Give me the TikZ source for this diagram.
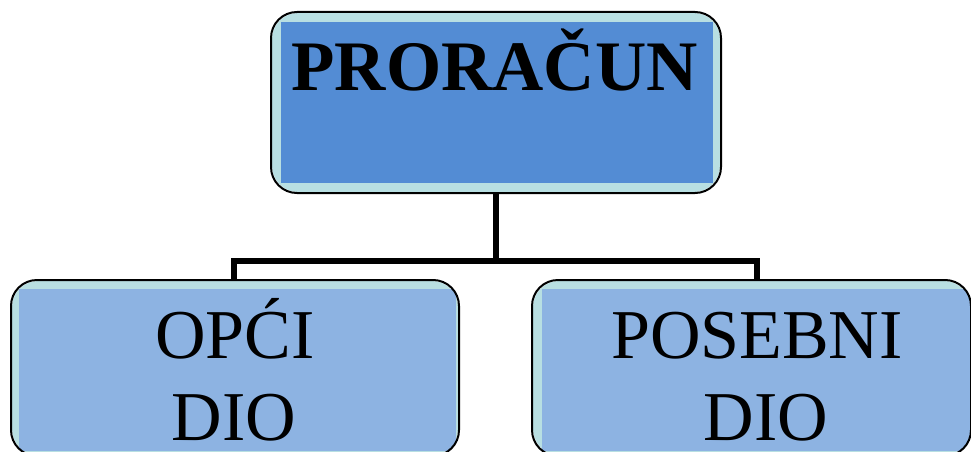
\documentclass[tikz,border=0pt]{standalone}
\usepackage{fontspec}
\setmainfont{Liberation Serif}
\usetikzlibrary{calc}
\definecolor{lightrim}{RGB}{184,223,226}
\definecolor{topblue}{RGB}{83,140,212}
\definecolor{childblue}{RGB}{141,179,226}
\tikzset{
  outerbox/.style={line width=2pt, rounded corners=26pt, fill=lightrim, inner sep=0pt},
  rim/.style={draw=black, line width=2pt, rounded corners=26pt},
  conn/.style={draw=black, line width=5.5pt},
  toptext/.style={font=\fontsize{71}{82}\selectfont\bfseries, inner sep=0pt, anchor=base},
  childtext/.style={font=\fontsize{70}{82}\selectfont, inner sep=0pt, anchor=base},
}
\begin{document}
\begin{tikzpicture}[x=1pt,y=-1pt]
\useasboundingbox (0,0) rectangle (971,452);
\clip (0,0) rectangle (971,452);
% boxes
\node[outerbox, minimum width=448pt, minimum height=179pt] (top) at (496,102.5) {};
\node[outerbox, minimum width=446pt, minimum height=174pt] (left) at (235,368) {};
\node[outerbox, minimum width=437pt, minimum height=174pt] (right) at (751.5,368) {};
% inner fills
\begin{scope}
\clip[rounded corners=26pt] (top.north west) rectangle (top.south east);
\fill[topblue] ($(top.north west)+(10,10)$) rectangle ($(top.south east)+(-8,-10)$);
\end{scope}
\begin{scope}
\clip[rounded corners=26pt] (left.north west) rectangle (left.south east);
\fill[childblue] ($(left.north west)+(8,9)$) rectangle ($(left.south east)+(-3,-5)$);
\end{scope}
\begin{scope}
\clip[rounded corners=26pt] (right.north west) rectangle (right.south east);
\fill[childblue] ($(right.north west)+(10,9)$) rectangle ($(right.south east)+(-1,-5)$);
\end{scope}
% borders
\draw[rim] (top.north west) rectangle (top.south east);
\draw[rim] (left.north west) rectangle (left.south east);
\draw[rim] (right.north west) rectangle (right.south east);
% connectors
\coordinate (bus) at ($(top.south)+(0,68)$);
\draw[conn] (top.south) -- (bus);
\draw[conn] ($(left.north)+(-1,0)$) |- (bus);
\draw[conn] ($(right.north)+(5.5,0)$) |- (bus);
% texts
\node[toptext] (t1) at (494.5,90) {PRORAČUN};
\node[childtext] (l1) at (235,358) {OPĆI};
\node[childtext] (l2) at (234,440) {DIO};
\node[childtext] (r1) at (757,358) {POSEBNI};
\node[childtext] (r2) at (766,440) {DIO};
\end{tikzpicture}
\end{document}
